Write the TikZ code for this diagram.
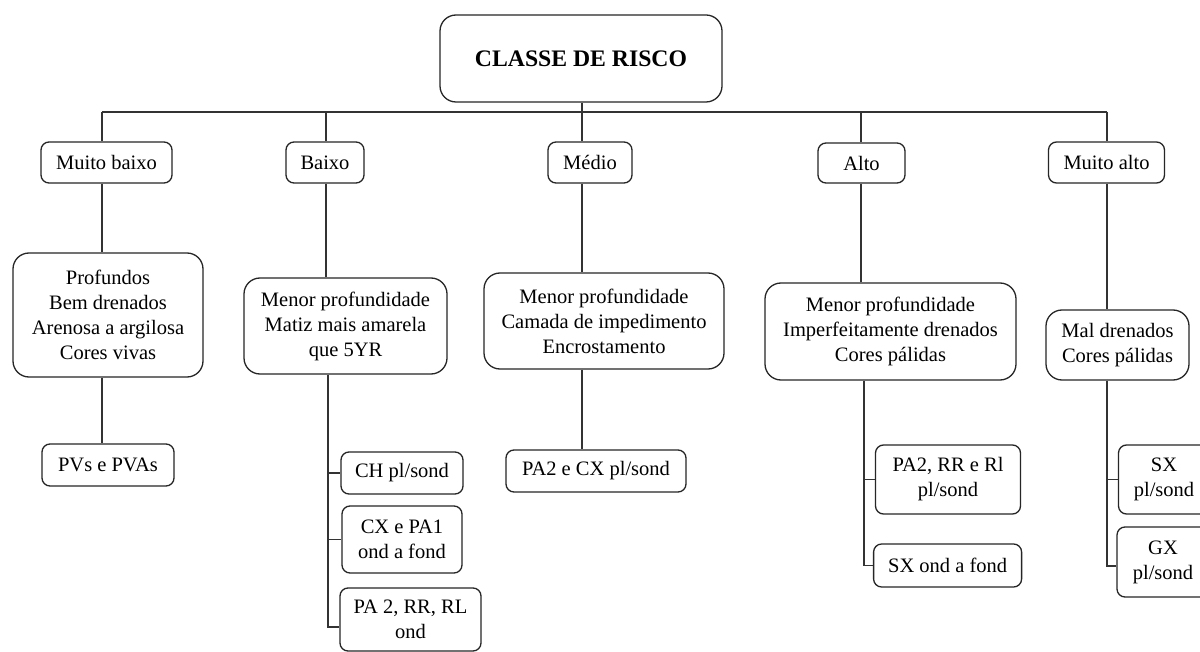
\documentclass[tikz,border=0pt]{standalone}
\usepackage{fontspec}
\setmainfont{Liberation Serif}
\begin{document}
\begin{tikzpicture}[x=1pt,y=-1pt,
  box/.style={draw=black!85, line width=1.3pt, rounded corners=8pt, inner sep=0pt, align=center, fill=white,
    font=\fontsize{20.5}{25}\selectfont},
  bigbox/.style={box, rounded corners=16pt},
  link/.style={draw=black!80, line width=1.3pt}]
\useasboundingbox (0,0) rectangle (1200,652);
\fill[white] (0,0) rectangle (1200,652);
\clip (0,0) rectangle (1200,652);

% top
\node[bigbox, minimum width=282pt, minimum height=87pt, font=\fontsize{23.7}{28}\selectfont\bfseries] (top) at (581,58.5) {CLASSE DE RISCO};

% level 1
\node[box, minimum width=131pt, minimum height=41pt] (l1a) at (106.5,162.5) {Muito baixo};
\node[box, minimum width=78pt, minimum height=41pt] (l1b) at (325,162.5) {Baixo};
\node[box, minimum width=84pt, minimum height=41pt] (l1c) at (590,162.5) {Médio};
\node[box, minimum width=87pt, minimum height=40pt] (l1d) at (861.5,163) {Alto};
\node[box, minimum width=116pt, minimum height=41pt] (l1e) at (1106.5,162.5) {Muito alto};

% level 2
\node[bigbox, minimum width=190pt, minimum height=124pt] (l2a) at (108,315) {Profundos\\Bem drenados\\Arenosa a argilosa\\Cores vivas};
\node[bigbox, minimum width=203pt, minimum height=96pt] (l2b) at (345.5,326) {Menor profundidade\\Matiz mais amarela\\que 5YR};
\node[bigbox, minimum width=240pt, minimum height=96pt] (l2c) at (604,321) {Menor profundidade\\Camada de impedimento\\Encrostamento};
\node[bigbox, minimum width=251pt, minimum height=97pt] (l2d) at (890.5,331.5) {Menor profundidade\\Imperfeitamente drenados\\Cores pálidas};
\node[bigbox, minimum width=143pt, minimum height=70pt] (l2e) at (1117.5,345) {Mal drenados\\Cores pálidas};

% level 3
\node[box, minimum width=132pt, minimum height=42pt] (l3a) at (108,465) {PVs e PVAs};
\node[box, minimum width=122pt, minimum height=42pt] (b1) at (402,473) {CH pl/sond};
\node[box, minimum width=120pt, minimum height=67pt] (b2) at (402,539.5) {CX e PA1\\ond a fond};
\node[box, minimum width=141pt, minimum height=63pt] (b3) at (410.5,619.5) {PA 2, RR, RL\\ond};
\node[box, minimum width=180pt, minimum height=42pt] (c1) at (596,471) {PA2 e CX pl/sond};
\node[box, minimum width=145pt, minimum height=69pt] (d1) at (948,479.5) {PA2, RR e Rl\\pl/sond};
\node[box, minimum width=148pt, minimum height=43pt] (d2) at (947.6,565.5) {SX ond a fond};
\node[box, minimum width=91pt, minimum height=69pt] (e1) at (1164,479.5) {SX\\pl/sond};
\node[box, minimum width=92pt, minimum height=70pt] (e2) at (1163,562) {GX\\pl/sond};

% bus
\coordinate (ja) at (102,112);
\coordinate (jb) at (326,112);
\coordinate (jc) at (582,112);
\coordinate (jd) at (861,112);
\coordinate (je) at (1107,112);
\draw[link] (top.south -| jc) -- (jc);
\draw[link] (ja) -- (je);

% drops to level 1 and level 2
\draw[link] (ja) -- (ja |- l1a.north);
\draw[link] (ja |- l1a.south) -- (ja |- l2a.north);
\draw[link] (jb) -- (jb |- l1b.north);
\draw[link] (jb |- l1b.south) -- (jb |- l2b.north);
\draw[link] (jc) -- (jc |- l1c.north);
\draw[link] (jc |- l1c.south) -- (jc |- l2c.north);
\draw[link] (jd) -- (jd |- l1d.north);
\draw[link] (jd |- l1d.south) -- (jd |- l2d.north);
\draw[link] (je) -- (je |- l1e.north);
\draw[link] (je |- l1e.south) -- (je |- l2e.north);

% level 2 to level 3
\draw[link] (ja |- l2a.south) -- (ja |- l3a.north);
\draw[link] (jc |- l2c.south) -- (jc |- c1.north);

\coordinate (tb) at (328,627);
\draw[link] (tb |- l2b.south) -- (tb) -- (tb -| b3.west);
\draw[link] (tb |- b1.west) -- (b1.west);
\draw[link] (tb |- b2.west) -- (b2.west);

\coordinate (td) at (864,565.5);
\draw[link] (td |- l2d.south) -- (td) -- (d2.west);
\draw[link] (td |- d1.west) -- (d1.west);

\coordinate (te) at (1107,566);
\draw[link] (te |- l2e.south) -- (te) -- (te -| e2.west);
\draw[link] (te |- e1.west) -- (e1.west);
\end{tikzpicture}
\end{document}
